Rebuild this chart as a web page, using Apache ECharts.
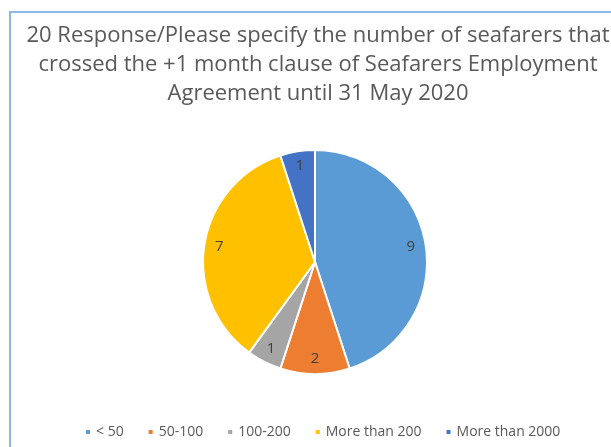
<!DOCTYPE html>
<html>
<head>
<meta charset="utf-8">
<script src="https://cdn.jsdelivr.net/npm/echarts@6/dist/echarts.min.js"></script>
<style>
  html, body { margin: 0; padding: 0; background: #fff; }
  #chart { width: 611px; height: 447px; }
</style>
</head>
<body>
<div id="chart"></div>
<script>
// Survey responses: number of seafarers past the +1 month clause
const categories = ['< 50', '50-100', '100-200', 'More than 200', 'More than 2000'];
const responses = [9, 2, 1, 7, 1];
const sliceColors = ['#5B9BD5', '#ED7D31', '#A5A5A5', '#FFC000', '#4472C4'];
const titleLines = [
  '20 Response/Please specify the number of seafarers that',
  'crossed the +1 month clause of Seafarers Employment',
  'Agreement until 31 May 2020'
];

const pieData = categories.map((name, i) => ({
  name: name,
  value: responses[i],
  itemStyle: { color: sliceColors[i] }
}));

const chart = echarts.init(document.getElementById('chart'), null, { renderer: 'canvas' });

chart.setOption({
  animation: false,
  backgroundColor: '#ffffff',
  title: {
    text: titleLines.join('\n'),
    left: 313,
    top: 16,
    textAlign: 'center',
    textStyle: {
      fontFamily: 'Open Sans',
      fontSize: 22,
      fontWeight: 'normal',
      color: '#595959',
      lineHeight: 29
    }
  },
  graphic: [{
    type: 'rect',
    shape: { x: 10, y: 12, width: 640, height: 480 },
    style: { fill: 'none', stroke: '#8CB8E8', lineWidth: 2 },
    silent: true,
    z: -1
  }],
  legend: {
    data: categories,
    left: 79,
    top: 420,
    icon: 'rect',
    itemWidth: 6,
    itemHeight: 6,
    itemGap: 23,
    textStyle: {
      fontFamily: 'Open Sans',
      fontSize: 14,
      color: '#595959'
    }
  },
  series: [
    {
      type: 'pie',
      center: [315, 262],
      radius: [0, 112],
      startAngle: 90,
      clockwise: true,
      data: pieData,
      label: { show: false },
      labelLine: { show: false },
      itemStyle: { borderColor: '#ffffff', borderWidth: 2 },
      emphasis: { disabled: true }
    },
    {
      // transparent ring used only to place the value labels inside the slices
      type: 'pie',
      center: [315, 262],
      radius: [82, 106],
      startAngle: 90,
      clockwise: true,
      silent: true,
      legendHoverLink: false,
      data: pieData.map(d => ({ name: d.name, value: d.value })),
      itemStyle: { color: 'rgba(0,0,0,0)' },
      label: {
        show: true,
        position: 'inside',
        formatter: '{c}',
        fontFamily: 'Open Sans',
        fontSize: 15,
        color: '#404040'
      },
      labelLine: { show: false },
      emphasis: { disabled: true }
    }
  ]
});
</script>
</body>
</html>
